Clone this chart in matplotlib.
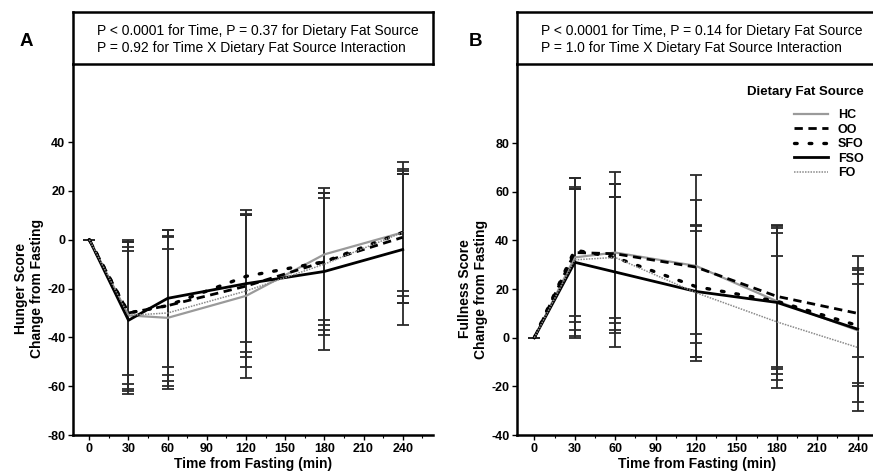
import numpy as np
import matplotlib.pyplot as plt
from matplotlib.ticker import MultipleLocator

plt.rcParams['font.family'] = ['Liberation Sans', 'DejaVu Sans']
plt.rcParams['axes.unicode_minus'] = False

# Data
time_min = [0, 30, 60, 120, 180, 240]
groups = ["HC", "OO", "SFO", "FSO", "FO"]

# Hunger score, change from fasting (mean, SD)
hunger_hc = [0, -31, -32, -23, -6, 3]
hunger_oo = [0, -30, -27, -19, -9, 1]
hunger_sfo = [0, -30, -27, -15, -9, 3]
hunger_fso = [0, -33, -24, -18, -13, -4]
hunger_fo = [0, -31, -30, -21, -10, 3]
hunger_sd_hc = [0, 31, 28, 33.5, 27, 26]
hunger_sd_oo = [0, 25.5, 31, 29, 28, 27]
hunger_sd_sfo = [0, 29, 28.5, 27, 26, 24]
hunger_sd_fso = [0, 30, 28, 28, 32, 31]
hunger_sd_fo = [0, 30, 31, 31, 29, 29]

# Fullness score, change from fasting (mean, SD)
full_hc = [0, 33, 35, 29.5, 15, 3]
full_oo = [0, 35, 34.5, 29, 17, 10]
full_sfo = [0, 36, 33, 21, 15, 5]
full_fso = [0, 31, 27, 19, 14.5, 3.5]
full_fo = [0, 32, 33, 18.5, 6.5, -4]
full_sd_hc = [0, 32.5, 33, 37.5, 28, 23]
full_sd_oo = [0, 26, 28.5, 27.5, 29, 18]
full_sd_sfo = [0, 29.5, 25, 23, 30, 23.5]
full_sd_fso = [0, 31, 31, 27, 32, 30]
full_sd_fo = [0, 29, 30, 28, 27, 26]

hunger_means = [hunger_hc, hunger_oo, hunger_sfo, hunger_fso, hunger_fo]
hunger_sds = [hunger_sd_hc, hunger_sd_oo, hunger_sd_sfo, hunger_sd_fso, hunger_sd_fo]
full_means = [full_hc, full_oo, full_sfo, full_fso, full_fo]
full_sds = [full_sd_hc, full_sd_oo, full_sd_sfo, full_sd_fso, full_sd_fo]

# line styles for HC, OO, SFO, FSO, FO
styles = [
    dict(color='#9a9a9a', lw=1.6, ls='-'),
    dict(color='black', lw=2.0, ls=(0, (3, 2))),
    dict(color='black', lw=2.4, ls=(0, (0.8, 3.6)), dash_capstyle='round'),
    dict(color='black', lw=2.0, ls='-'),
    dict(color='#8a8a8a', lw=1.1, ls=(0, (1, 0.8))),
]

fig = plt.figure(figsize=(8.73, 4.73), dpi=100)
W, H = 873.0, 473.0


def draw_panel(left_px, right_px, xlim, ylim, yticks, means, sds, ylabel, letter, letter_px,
               ptext, legend=False):
    width_px = right_px - left_px
    ax = fig.add_axes([left_px / W, 1 - 435 / H, width_px / W, (435 - 64) / H])
    for m, s in zip(means, sds):
        ax.errorbar(time_min, m, yerr=s, fmt='none', ecolor='#2a2a2a', elinewidth=1.3,
                    capsize=4, capthick=1.3, zorder=2)
    lines = []
    for m, st, g in zip(means, styles, groups):
        ln, = ax.plot(time_min, m, label=g, zorder=3, **st)
        lines.append(ln)
    ax.set_ylim(*ylim)
    ax.set_xlim(*xlim)
    ax.set_yticks(yticks)
    ax.set_xticks(range(0, 241, 30))
    ax.xaxis.set_minor_locator(MultipleLocator(15))
    ax.spines['top'].set_visible(False)
    ax.spines['right'].set_visible(False)
    ax.spines['left'].set_linewidth(1.8)
    ax.spines['bottom'].set_linewidth(1.8)
    ax.tick_params(axis='both', which='major', direction='out', length=3.5, width=1.0,
                   labelsize=9, pad=2)
    ax.tick_params(axis='x', which='minor', length=2, width=0.8)
    for lab in ax.get_xticklabels() + ax.get_yticklabels():
        lab.set_fontweight('bold')
    ax.set_xlabel('Time from Fasting (min)', fontsize=10, fontweight='bold', labelpad=2)
    # center the y label on the labelled tick range
    ymid = (yticks[0] + yticks[-1]) / 2.0
    yfrac = (ymid - ylim[0]) / (ylim[1] - ylim[0])
    ax.set_ylabel(ylabel, fontsize=10, fontweight='bold', linespacing=1.15)
    ax.yaxis.set_label_coords(-29 / width_px, yfrac)

    # statistics box above the plot
    box = fig.add_axes([left_px / W, 1 - 64 / H, width_px / W, (64 - 12) / H])
    box.set_xticks([])
    box.set_yticks([])
    for sp in box.spines.values():
        sp.set_linewidth(1.8)
    box.text(24 / width_px, 0.47, ptext, fontsize=10, va='center', ha='left',
             linespacing=1.2, transform=box.transAxes)

    fig.text(letter_px / W, 1 - 41 / H, letter, fontsize=13.5, fontweight='bold',
             ha='left', va='center')

    if legend:
        leg = ax.legend(handles=lines, title='Dietary Fat Source', loc='upper right',
                        bbox_to_anchor=((870 - left_px) / width_px, 1 - (80 - 64) / 371),
                        frameon=False, fontsize=9, handlelength=2.7, handletextpad=0.8,
                        labelspacing=0.2, alignment='right', borderpad=0)
        leg.get_title().set_fontweight('bold')
        leg.get_title().set_fontsize(9.5)
        leg._legend_box.sep = 8
        for t in leg.get_texts():
            t.set_fontweight('bold')
    return ax


draw_panel(73, 433, (-12.5, 263.2), (-80, 72), [-80, -60, -40, -20, 0, 20, 40],
           hunger_means, hunger_sds, 'Hunger Score\nChange from Fasting', 'A', 20,
           'P < 0.0001 for Time, P = 0.37 for Dietary Fat Source\n'
           'P = 0.92 for Time X Dietary Fat Source Interaction')
draw_panel(517, 878, (-12.84, 255.1), (-40, 112.5), [-40, -20, 0, 20, 40, 60, 80],
           full_means, full_sds, 'Fullness Score\nChange from Fasting', 'B', 469,
           'P < 0.0001 for Time, P = 0.14 for Dietary Fat Source\n'
           'P = 1.0 for Time X Dietary Fat Source Interaction', legend=True)

fig.savefig('out.png', dpi=100)
